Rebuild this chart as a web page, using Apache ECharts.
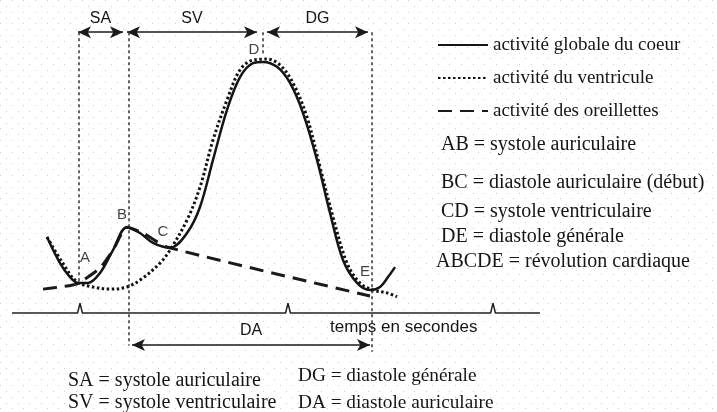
<!DOCTYPE html>
<html><head><meta charset="utf-8">
<script src="https://cdn.jsdelivr.net/npm/echarts@6/dist/echarts.min.js"></script>
<style>html,body{margin:0;padding:0;background:#fff}#c{width:717px;height:412px}</style>
</head><body><div id="c"></div>
<script>
// ---- data (time in s, activity in arbitrary units) ----
const globalT = [0.175,0.24,0.29,0.33,0.38,0.44,0.505,0.575,0.64,0.705,0.79,0.875,0.94,1.005,1.075,1.14,1.205,1.255,1.325,1.39,1.455,1.525,1.59,1.655,1.725,1.79,1.84,1.88,1.915];
const globalV = [24.5,16.1,11.6,9.7,9.7,12.9,20.3,27.7,25.8,22.6,21.0,25.8,34.2,49.4,65.5,76.1,80.6,81.0,79.4,74.2,64.5,49.4,32.3,17.1,9.7,7.4,8.4,11.6,14.8];
const ventT = [0.175,0.25,0.325,0.405,0.49,0.575,0.655,0.74,0.79,0.875,0.94,1.005,1.075,1.14,1.205,1.275,1.34,1.405,1.475,1.54,1.605,1.675,1.74,1.805,1.875,1.925];
const ventV = [24.5,16.5,10.0,8.4,7.7,8.4,11.3,16.1,20.3,30.0,40.6,55.8,68.7,78.4,81.6,81.9,80.0,74.2,63.2,47.1,31.0,16.1,9.7,7.4,6.5,5.2];
const atriaT = [0.155,0.24,0.325,0.44,0.505,0.575,0.655,0.775,1.79];
const atriaV = [7.7,8.4,9.4,14.5,20.3,27.7,25.8,21.3,5.5];
const seriesNames = ['activité globale du coeur','activité du ventricule','activité des oreillettes'];
const pointNames = ['A','B','C','D','E'];
const pointT = [0.33,0.575,0.79,1.255,1.79];
const pointV = [9.7,27.7,21.0,81.0,7.4];
const phaseNames = ['SA','SV','DG'];
const phaseStart = [0.33,0.575,1.275];
const phaseEnd = [0.555,1.225,1.78];
const phaseLevel = 90.6;
const daName = 'DA', daStart = 0.6, daEnd = 1.79, daLevel = -10.3;
const boundaryT = [0.335,0.585,1.255,1.8];
const boundaryBottom = [9,-10.5,83,-12.5];
const pulseT = [0.34,1.38,2.405];
const pulseH = 3.2;
const timeMin = 0, timeMax = 2.64;
const axisTitle = 'temps en secondes';
const definitions = ['AB = systole auriculaire','BC = diastole auriculaire (début)','CD = systole ventriculaire','DE = diastole générale','ABCDE = révolution cardiaque'];
const abbrevLeft = ['SA = systole auriculaire','SV = systole ventriculaire'];
const abbrevRight = ['DG = diastole générale','DA = diastole auriculaire'];

// ---- helpers ----
const zip = (a,b) => a.map((v,i)=>[v,b[i]]);
function dotPattern(){
  const c = document.createElement('canvas'); c.width = 35; c.height = 35;
  const g = c.getContext('2d'); g.fillStyle = '#cfcfcf';
  for (let i=0;i<3;i++) for (let j=0;j<3;j++){
    g.fillRect(Math.round(i*35/3), Math.round(j*35/3), 1, 1);
    g.fillRect(Math.round(i*35/3+35/6), Math.round(j*35/3+35/6), 1, 1);
  }
  return c;
}
const baseline = [[timeMin,0]];
pulseT.forEach(t=>{ baseline.push([t-0.012,0],[t,pulseH],[t+0.012,0]); });
baseline.push([timeMax,0]);

const labelOffsets = {A:[7,-25],B:[-5,-12],C:[-7,-16],D:[-9,-12],E:[-5,-18]};
const SANS = "'Liberation Sans', Arial, sans-serif";
const SERIF = "'Liberation Serif', 'Times New Roman', serif";
const ink = '#151515';

const arrowLines = phaseNames.map((n,i)=>[
  {coord:[phaseStart[i],phaseLevel], name:n},
  {coord:[phaseEnd[i],phaseLevel]}
]);
arrowLines.push([{coord:[daStart,daLevel], name:daName},{coord:[daEnd,daLevel]}]);
const boundaryLines = boundaryT.map((t,i)=>[
  {coord:[t,phaseLevel], symbol:'none', label:{show:false}, lineStyle:{type:[3,3], width:1.5, color:'#333'}},
  {coord:[t,boundaryBottom[i]], symbol:'none'}
]);

const chart = echarts.init(document.getElementById('c'));
const textEls = [];
definitions.forEach((s,i)=>{
  const ys = [145,183,212,237,262];
  textEls.push({type:'text', x: i===4?436:441, y: ys[i], style:{text:s, fontFamily:SERIF, fontSize:20, fill:ink, verticalAlign:'middle'}});
});
abbrevLeft.forEach((s,i)=>{
  textEls.push({type:'text', x:68, y:[381,403][i], style:{text:s, fontFamily:SERIF, fontSize:20, fill:ink, verticalAlign:'middle'}});
});
abbrevRight.forEach((s,i)=>{
  textEls.push({type:'text', x:298, y:[376,403][i], style:{text:s, fontFamily:SERIF, fontSize:19.3, fill:ink, verticalAlign:'middle'}});
});
textEls.push({type:'text', x:330, y:327, style:{text:axisTitle, fontFamily:SANS, fontSize:17, fill:ink, verticalAlign:'middle'}});

chart.setOption({
  animation:false,
  backgroundColor:{image:dotPattern(), repeat:'repeat'},
  grid:{left:12,right:177,top:3,bottom:6},
  xAxis:{type:'value',min:timeMin,max:timeMax,show:false},
  yAxis:{type:'value',min:-30,max:100,show:false},
  legend:{
    data:seriesNames, orient:'vertical', left:437, top:35, itemWidth:50, itemHeight:20, itemGap:13, padding:0,
    itemStyle:{opacity:0},
    textStyle:{fontFamily:SERIF, fontSize:19, color:ink, lineHeight:20}
  },
  graphic: textEls,
  series:[
    {name:seriesNames[0], type:'line', data:zip(globalT,globalV), smooth:0.35, symbol:'none',
     lineStyle:{color:ink, width:2.5}, itemStyle:{color:ink}, z:5},
    {name:seriesNames[1], type:'line', data:zip(ventT,ventV), smooth:0.35, symbol:'none',
     lineStyle:{color:'#111', width:3, type:[2.5,2.5]}, itemStyle:{color:'#111'}, z:4},
    {name:seriesNames[2], type:'line', data:zip(atriaT,atriaV), smooth:0.2, symbol:'none',
     lineStyle:{color:'#1a1a1a', width:3, type:[14,8]}, itemStyle:{color:'#1a1a1a'}, z:4},
    {name:'base', type:'line', data:baseline, symbol:'none', silent:true,
     lineStyle:{color:'#222', width:1.5}, z:3,
     markLine:{silent:true, animation:false, symbol:['arrow','arrow'], symbolSize:[9,13],
       lineStyle:{type:'solid', color:'#1a1a1a', width:1.5},
       label:{show:true, position:'middle', formatter:'{b}', fontFamily:SANS, fontSize:16, color:ink, distance:6},
       data: arrowLines.concat(boundaryLines)}},
    {name:'points', type:'scatter', data:pointNames.map((n,i)=>({name:n, value:[pointT[i],pointV[i]],
       label:{offset:labelOffsets[n]}})),
     symbolSize:0, silent:true, z:6,
     label:{show:true, position:'inside', formatter:'{b}', fontFamily:SANS, fontSize:15, color:'#111'}}
  ]
});
</script></body></html>
